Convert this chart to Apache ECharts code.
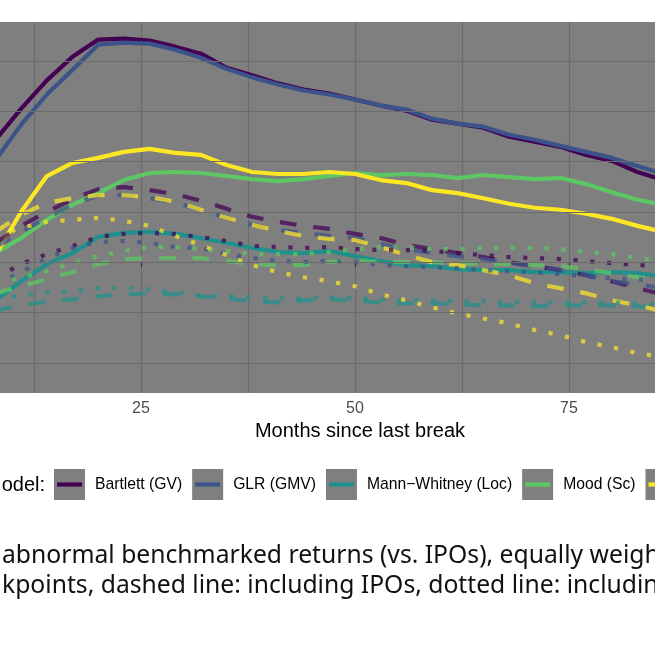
<!DOCTYPE html>
<html>
<head>
<meta charset="utf-8">
<script src="https://cdn.jsdelivr.net/npm/echarts@6/dist/echarts.min.js"></script>
<style>
html,body{margin:0;padding:0;width:655px;height:655px;overflow:hidden;background:#fff;}
#chart{position:absolute;left:-200px;top:0;width:1100px;height:655px;}
</style>
</head>
<body>
<div id="chart"></div>
<script>
// ---------------- data ----------------
const months = [8,11,14,17,20,23,26,29,32,35,38,41,44,47,50,53,56,59,62,65,68,71,74,77,80,83,86];
const models = ["Bartlett (GV)", "GLR (GMV)", "Mann\u2212Whitney (Loc)", "Mood (Sc)", "(fifth model)"];
const modelColors = ["#440154", "#3B528B", "#21908C", "#5DC863", "#FDE725"];
const xTicks = [25, 50, 75];
const xTitle = "Months since last break";
const legendTitle = "Model:";
const captionLines = [
  "abnormal benchmarked returns (vs. IPOs), equally weighted",
  "kpoints, dashed line: including IPOs, dotted line: including"
];

// solid lines
const bartlettSolid = [2.43,3.05,3.61,4.08,4.42,4.44,4.40,4.28,4.14,3.86,3.71,3.55,3.43,3.35,3.23,3.11,3.01,2.83,2.75,2.67,2.49,2.39,2.29,2.13,2.01,1.79,1.63];
const glrSolid      = [2.03,2.73,3.33,3.82,4.32,4.36,4.34,4.22,4.06,3.84,3.67,3.53,3.41,3.33,3.23,3.11,3.03,2.85,2.75,2.69,2.53,2.43,2.31,2.19,2.07,1.91,1.75];
const mwSolid       = [-0.76,-0.38,-0.04,0.18,0.50,0.58,0.60,0.56,0.48,0.38,0.28,0.20,0.18,0.22,0.12,0.02,-0.06,-0.08,-0.14,-0.16,-0.16,-0.20,-0.20,-0.22,-0.20,-0.22,-0.28];
const moodSolid     = [0.18,0.48,0.84,1.14,1.37,1.63,1.77,1.79,1.77,1.71,1.65,1.61,1.65,1.71,1.77,1.73,1.75,1.73,1.67,1.73,1.69,1.65,1.67,1.55,1.39,1.24,1.14];
const fifthSolid    = [0.14,1.00,1.71,1.97,2.07,2.19,2.25,2.17,2.13,1.93,1.79,1.75,1.75,1.79,1.75,1.63,1.57,1.43,1.37,1.27,1.16,1.08,1.04,0.96,0.86,0.72,0.60];
// dashed lines
const bartlettDashed = [0.38,0.72,1.00,1.25,1.45,1.49,1.43,1.35,1.22,1.06,0.90,0.80,0.72,0.66,0.56,0.48,0.34,0.26,0.18,0.10,0.00,-0.08,-0.16,-0.26,-0.38,-0.52,-0.64];
const glrDashed      = [0.30,0.60,0.88,1.14,1.33,1.33,1.27,1.18,1.04,0.88,0.74,0.64,0.58,0.52,0.48,0.36,0.26,0.18,0.12,0.06,-0.02,-0.08,-0.16,-0.26,-0.38,-0.44,-0.52];
const mwDashed       = [-0.96,-0.86,-0.78,-0.74,-0.68,-0.64,-0.62,-0.64,-0.68,-0.72,-0.78,-0.80,-0.76,-0.74,-0.76,-0.80,-0.82,-0.82,-0.84,-0.86,-0.86,-0.88,-0.86,-0.86,-0.86,-0.88,-0.90];
const moodDashed     = [-0.62,-0.48,-0.34,-0.20,-0.04,0.06,0.08,0.08,0.08,0.02,-0.04,-0.06,-0.06,0.00,0.04,0.00,0.00,0.00,-0.02,-0.04,-0.04,-0.06,-0.08,-0.14,-0.22,-0.30,-0.38];
const fifthDashed    = [0.60,0.94,1.18,1.27,1.33,1.33,1.29,1.20,1.04,0.88,0.74,0.62,0.52,0.46,0.44,0.30,0.14,0.00,-0.06,-0.16,-0.26,-0.42,-0.52,-0.62,-0.76,-0.86,-0.98];
// dotted lines
const bartlettDotted = [-0.32,-0.04,0.16,0.32,0.50,0.56,0.58,0.56,0.50,0.42,0.32,0.30,0.28,0.30,0.26,0.24,0.24,0.22,0.18,0.14,0.10,0.08,0.06,0.02,-0.02,-0.06,-0.08];
const glrDotted      = [-0.46,-0.20,0.08,0.28,0.40,0.42,0.38,0.30,0.28,0.16,0.08,0.02,0.00,0.02,0.00,-0.06,-0.08,-0.10,-0.12,-0.16,-0.18,-0.20,-0.24,-0.28,-0.32,-0.34,-0.38];
const mwDotted       = [-0.74,-0.66,-0.60,-0.58,-0.52,-0.50,-0.54,-0.60,-0.66,-0.68,-0.70,-0.72,-0.72,-0.70,-0.72,-0.74,-0.76,-0.76,-0.78,-0.78,-0.80,-0.80,-0.80,-0.80,-0.80,-0.82,-0.84];
const moodDotted     = [-0.44,-0.30,-0.18,-0.02,0.12,0.22,0.30,0.30,0.26,0.22,0.16,0.16,0.16,0.20,0.26,0.30,0.30,0.26,0.26,0.28,0.28,0.28,0.26,0.20,0.16,0.08,0.02];
const fifthDotted    = [0.50,0.68,0.80,0.84,0.88,0.82,0.72,0.52,0.34,0.14,-0.06,-0.20,-0.30,-0.38,-0.48,-0.64,-0.76,-0.90,-1.02,-1.12,-1.22,-1.35,-1.45,-1.59,-1.69,-1.81,-1.89];
const yGridValues = [-2, -1, 0, 1, 2, 3, 4];

// ---------------- layout ----------------
const OFF = 200;            // div is shifted 200px left of the window
const PANEL_TOP = 22, PANEL_H = 371;
const LW = 4.2;

const solid = [bartlettSolid, glrSolid, mwSolid, moodSolid, fifthSolid];
const dashed = [bartlettDashed, glrDashed, mwDashed, moodDashed, fifthDashed];
const dotted = [bartlettDotted, glrDotted, mwDotted, moodDotted, fifthDotted];

const series = [];
function addGroup(arrs, type, opacity, tag) {
  arrs.forEach((arr, i) => {
    series.push({
      name: models[i] + tag,
      type: 'line',
      data: months.map((m, j) => [m, arr[j]]),
      showSymbol: false,
      symbol: 'none',
      silent: true,
      clip: true,
      z: 3,
      lineStyle: { color: modelColors[i], width: LW, type: type, opacity: opacity, cap: 'butt', join: 'round' }
    });
  });
}
addGroup(solid, 'solid', 1, '');
addGroup(dashed, [LW * 4, LW * 4], 0.72, ' dashed');
addGroup(dotted, [LW, LW * 3], 0.72, ' dotted');

// horizontal grid lines through the y scale
series.unshift({
  type: 'line', data: [], silent: true, z: 1,
  markLine: {
    silent: true, symbol: 'none', animation: false,
    label: { show: false },
    lineStyle: { color: '#6B6B6B', width: 1.2, type: 'solid' },
    data: yGridValues.map(v => ({ yAxis: v }))
  }
});

// legend (drawn as graphics)
const cv = document.createElement('canvas').getContext('2d');
const legendFont = '15.7px "Liberation Sans", Arial, sans-serif';
cv.font = legendFont;
const graphics = [];
graphics.push({
  type: 'text', x: OFF + 45, y: 485, silent: true,
  style: { text: legendTitle, font: '20px "Liberation Sans", Arial, sans-serif', fill: '#000', align: 'right', verticalAlign: 'middle' }
});
let lx = OFF + 54;
models.forEach((name, i) => {
  graphics.push({ type: 'rect', silent: true, shape: { x: lx, y: 469, width: 31, height: 31 }, style: { fill: '#7F7F7F' } });
  graphics.push({ type: 'line', silent: true, shape: { x1: lx + 3, y1: 484.5, x2: lx + 28, y2: 484.5 }, style: { stroke: modelColors[i], lineWidth: LW } });
  graphics.push({ type: 'text', silent: true, x: lx + 41, y: 485, style: { text: name, font: legendFont, fill: '#000', verticalAlign: 'middle' } });
  lx += 41 + cv.measureText(name).width + 10;
});
captionLines.forEach((t, k) => {
  graphics.push({ type: 'text', silent: true, x: OFF + 2, y: 556 + 30 * k,
    style: { text: t, font: '24.7px "Noto Sans", Lato, sans-serif', fill: '#111', verticalAlign: 'middle' } });
});

const chart = echarts.init(document.getElementById('chart'), null, { renderer: 'canvas' });
chart.setOption({
  animation: false,
  backgroundColor: '#fff',
  grid: { left: OFF - 73, width: 856, top: PANEL_TOP, height: PANEL_H, show: true, backgroundColor: '#7F7F7F', borderWidth: 0, containLabel: false },
  xAxis: {
    type: 'value', min: 0, max: 100, interval: 25,
    name: xTitle, nameLocation: 'middle', nameGap: 27,
    nameTextStyle: { color: '#000', fontSize: 20, fontFamily: '"Liberation Sans", Arial, sans-serif', padding: [0, 0, 0, 10] },
    axisLine: { show: false },
    axisTick: { show: true, length: 5, lineStyle: { color: '#333', width: 1.2 } },
    axisLabel: { margin: 8, color: '#4D4D4D', fontSize: 16, fontFamily: '"Liberation Sans", Arial, sans-serif',
      formatter: v => (xTicks.indexOf(v) >= 0 ? String(v) : '') },
    splitLine: { show: true, lineStyle: { color: '#6B6B6B', width: 1.2 } },
    minorTick: { show: false, splitNumber: 2 },
    minorSplitLine: { show: true, lineStyle: { color: '#6B6B6B', width: 1.2 } }
  },
  yAxis: {
    type: 'value', min: -2.60, max: 4.77,
    axisLine: { show: false }, axisTick: { show: false }, axisLabel: { show: false },
    splitLine: { show: false }
  },
  graphic: graphics,
  series: series
});
</script>
</body>
</html>
